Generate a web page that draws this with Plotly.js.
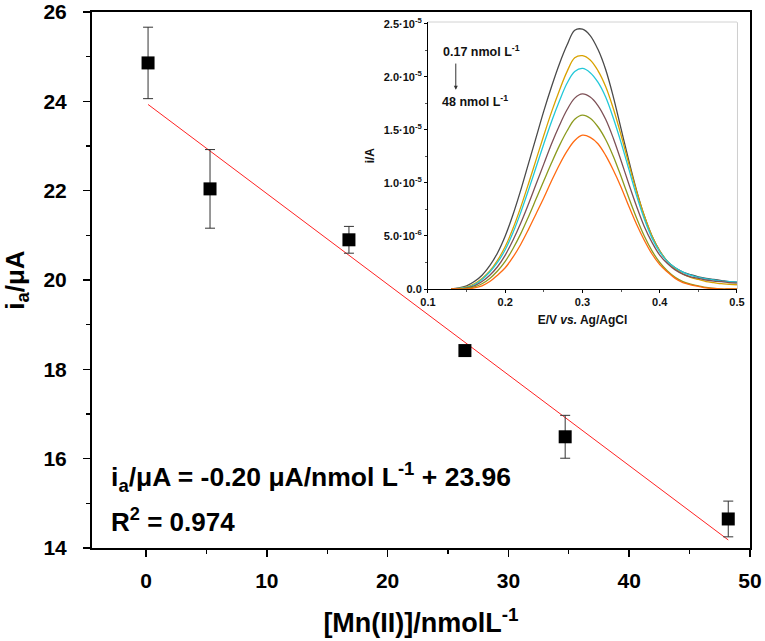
<!DOCTYPE html>
<html>
<head>
<meta charset="utf-8">
<script src="https://cdn.plot.ly/plotly-3.0.1.min.js"></script>
<style>html,body{margin:0;padding:0;background:#fff;}#chart{width:765px;height:641px;}</style>
</head>
<body>
<div id="chart"></div>
<script>
// ---- Main calibration data ----
const concentration = [0.17, 5.3, 16.8, 26.4, 34.7, 48.2];      // [Mn(II)] nmol/L
const currentMean   = [24.86, 22.04, 20.9, 18.42, 16.49, 14.65]; // i_a / µA
const currentErr    = [0.8, 0.88, 0.3, 0.1, 0.48, 0.4];
const fitX = [0.17, 48.2];
const fitY = [23.93, 14.18];

// ---- Inset voltammograms (current in units of 1e-5 A) ----
const potential = [0.13,0.14,0.15,0.16,0.17,0.18,0.19,0.20,0.21,0.22,0.23,0.24,0.25,0.26,0.27,0.28,0.29,0.30,0.31,0.32,0.33,0.34,0.35,0.36,0.37,0.38,0.39,0.40,0.41,0.42,0.43,0.44,0.45,0.46,0.47,0.48,0.49,0.50];
const curveBlack  = [0,0.01,0.03,0.07,0.13,0.22,0.34,0.50,0.70,0.93,1.18,1.43,1.68,1.91,2.12,2.30,2.44,2.45,2.39,2.26,2.07,1.81,1.51,1.21,0.93,0.69,0.50,0.36,0.26,0.20,0.16,0.135,0.115,0.10,0.09,0.08,0.07,0.065];
const curveGold   = [0,0.005,0.02,0.05,0.10,0.17,0.27,0.40,0.57,0.77,0.99,1.22,1.45,1.67,1.87,2.05,2.18,2.20,2.16,2.06,1.91,1.70,1.45,1.18,0.92,0.69,0.50,0.36,0.26,0.19,0.14,0.11,0.09,0.07,0.06,0.05,0.045,0.04];
const curveCyan   = [0,0.005,0.015,0.04,0.09,0.16,0.25,0.37,0.53,0.72,0.93,1.15,1.37,1.58,1.77,1.94,2.05,2.08,2.04,1.95,1.81,1.61,1.38,1.13,0.88,0.66,0.48,0.35,0.26,0.20,0.16,0.13,0.11,0.095,0.085,0.075,0.07,0.065];
const curveBrown  = [0,0,0.01,0.03,0.07,0.13,0.21,0.32,0.46,0.62,0.80,0.99,1.18,1.37,1.54,1.69,1.80,1.84,1.81,1.73,1.60,1.42,1.21,0.99,0.78,0.59,0.44,0.32,0.24,0.18,0.14,0.115,0.10,0.085,0.075,0.07,0.06,0.055];
const curveOlive  = [0,0,0.005,0.02,0.05,0.10,0.17,0.26,0.38,0.52,0.68,0.85,1.02,1.19,1.35,1.49,1.60,1.64,1.61,1.53,1.41,1.25,1.06,0.86,0.67,0.50,0.36,0.25,0.17,0.11,0.07,0.045,0.03,0.015,0.005,0,0,0];
const curveOrange = [0,0,0,0.01,0.03,0.07,0.13,0.20,0.30,0.42,0.56,0.71,0.86,1.02,1.17,1.30,1.40,1.45,1.43,1.37,1.26,1.12,0.96,0.78,0.61,0.46,0.33,0.23,0.16,0.10,0.06,0.04,0.025,0.01,0.005,0,0,0];
const insetTickVals = [0, 0.5, 1.0, 1.5, 2.0, 2.5];
const insetTickText = ['0.0','5.0·10<sup>-6</sup>','1.0·10<sup>-5</sup>','1.5·10<sup>-5</sup>','2.0·10<sup>-5</sup>','2.5·10<sup>-5</sup>'];

const curves = [
  {y: curveBlack,  c: '#4a4a4a'},
  {y: curveGold,   c: '#d9a200'},
  {y: curveCyan,   c: '#22c8d8'},
  {y: curveBrown,  c: '#7d5056'},
  {y: curveOlive,  c: '#8c9a1e'},
  {y: curveOrange, c: '#ff6a10'}
];

const F = 'Liberation Sans, Arial, sans-serif';

const traces = [
  {x: fitX, y: fitY, mode: 'lines', line: {color: '#f22', width: 1}, xaxis: 'x', yaxis: 'y', hoverinfo: 'skip'},
  {x: concentration, y: currentMean, mode: 'markers',
   marker: {symbol: 'square', size: 13, color: '#000'},
   error_y: {type: 'data', array: currentErr, visible: true, color: '#333', thickness: 1, width: 5},
   xaxis: 'x', yaxis: 'y'}
];
curves.forEach(c => traces.push({x: potential, y: c.y, mode: 'lines', line: {color: c.c, width: 1.3, shape: 'spline'}, xaxis: 'x2', yaxis: 'y2'}));

const layout = {
  width: 765, height: 641,
  margin: {l: 92, r: 15, t: 12, b: 93},
  paper_bgcolor: '#fff', plot_bgcolor: '#fff',
  showlegend: false,
  font: {family: F, color: '#000'},
  xaxis: {
    range: [-4.47, 50], domain: [0, 1], anchor: 'y',
    tickvals: [0,10,20,30,40,50], ticks: 'outside', ticklen: 7, tickwidth: 1.5, tickcolor: '#000',
    minor: {tickvals: [5,15,25,35,45], ticks: 'outside', ticklen: 4, tickwidth: 1.2, tickcolor: '#000'},
    showline: true, linecolor: '#000', linewidth: 2, mirror: true, showgrid: false, zeroline: false,
    ticklabelstandoff: 6,
    tickfont: {family: F, size: 21, color: '#000', weight: 'bold'},
    title: {text: '<b>[Mn(II)]/nmolL<sup>-1</sup></b>', font: {family: F, size: 27, color: '#000'}, standoff: 22}
  },
  yaxis: {
    range: [14, 26], domain: [0, 1], anchor: 'x',
    tickvals: [14,16,18,20,22,24,26], ticks: 'outside', ticklen: 7, tickwidth: 1.5, tickcolor: '#000',
    minor: {tickvals: [15,17,19,21,23,25], ticks: 'outside', ticklen: 4, tickwidth: 1.2, tickcolor: '#000'},
    showline: true, linecolor: '#000', linewidth: 2, mirror: true, showgrid: false, zeroline: false,
    ticklabelstandoff: 12,
    tickfont: {family: F, size: 21, color: '#000', weight: 'bold'},
    title: {text: '<b>i<sub>a</sub>/μA</b>', font: {family: F, size: 26, color: '#000'}, standoff: 14}
  },
  xaxis2: {
    range: [0.1, 0.5], domain: [0.5106, 0.9802], anchor: 'y2',
    tickvals: [0.1,0.2,0.3,0.4,0.5], ticktext: ['0.1','0.2','0.3','0.4','0.5'],
    ticks: 'outside', ticklen: 3, tickwidth: 1, tickcolor: '#000',
    minor: {tickvals: [0.15,0.25,0.35,0.45], ticks: 'outside', ticklen: 2, tickcolor: '#555'},
    showline: true, linecolor: '#000', linewidth: 1, showgrid: false, zeroline: false,
    tickfont: {family: F, size: 11, color: '#111', weight: 'bold'},
    title: {text: '<b>E/V <i>vs.</i> Ag/AgCl</b>', font: {family: F, size: 12, color: '#111'}, standoff: 8}
  },
  yaxis2: {
    range: [0, 2.515], domain: [0.4832, 0.9808], anchor: 'x2',
    tickvals: insetTickVals, ticktext: insetTickText,
    ticks: 'outside', ticklen: 3, tickwidth: 1, tickcolor: '#000',
    minor: {tickvals: [0.25,0.75,1.25,1.75,2.25], ticks: 'outside', ticklen: 2, tickcolor: '#555'},
    showline: true, linecolor: '#000', linewidth: 1, showgrid: false, zeroline: false,
    tickfont: {family: F, size: 11, color: '#111', weight: 'bold'},
    title: {text: '<b>i/A</b>', font: {family: F, size: 12, color: '#111'}, standoff: 6}
  },
  shapes: [
    {type: 'rect', xref: 'x2 domain', yref: 'y2 domain', x0: 0, x1: 1, y0: 0, y1: 1, line: {color: '#999', width: 1}, layer: 'below'}
  ],
  annotations: [
    {xref: 'paper', yref: 'paper', x: 0.026, y: 0.133, xanchor: 'left', yanchor: 'middle', showarrow: false,
     text: '<b>i<sub>a</sub>/μA = -0.20 μA/nmol L<sup>-1</sup> + 23.96</b>', font: {family: F, size: 26.5, color: '#000'}},
    {xref: 'paper', yref: 'paper', x: 0.026, y: 0.052, xanchor: 'left', yanchor: 'middle', showarrow: false,
     text: '<b>R<sup>2</sup> = 0.974</b>', font: {family: F, size: 26, color: '#000'}},
    {xref: 'x2', yref: 'y2', x: 0.117, y: 2.24, xanchor: 'left', yanchor: 'middle', showarrow: false,
     text: '<b>0.17 nmol L<sup>-1</sup></b>', font: {family: F, size: 12.5, color: '#111'}},
    {xref: 'x2', yref: 'y2', x: 0.115, y: 1.77, xanchor: 'left', yanchor: 'middle', showarrow: false,
     text: '<b>48 nmol L<sup>-1</sup></b>', font: {family: F, size: 12.5, color: '#111'}},
    {xref: 'x2', yref: 'y2', axref: 'x2', ayref: 'y2', x: 0.136, y: 1.88, ax: 0.136, ay: 2.14,
     showarrow: true, arrowhead: 2, arrowsize: 0.8, arrowwidth: 1, arrowcolor: '#333', text: ''}
  ]
};

Plotly.newPlot('chart', traces, layout, {displayModeBar: false, staticPlot: true});
</script>
</body>
</html>
